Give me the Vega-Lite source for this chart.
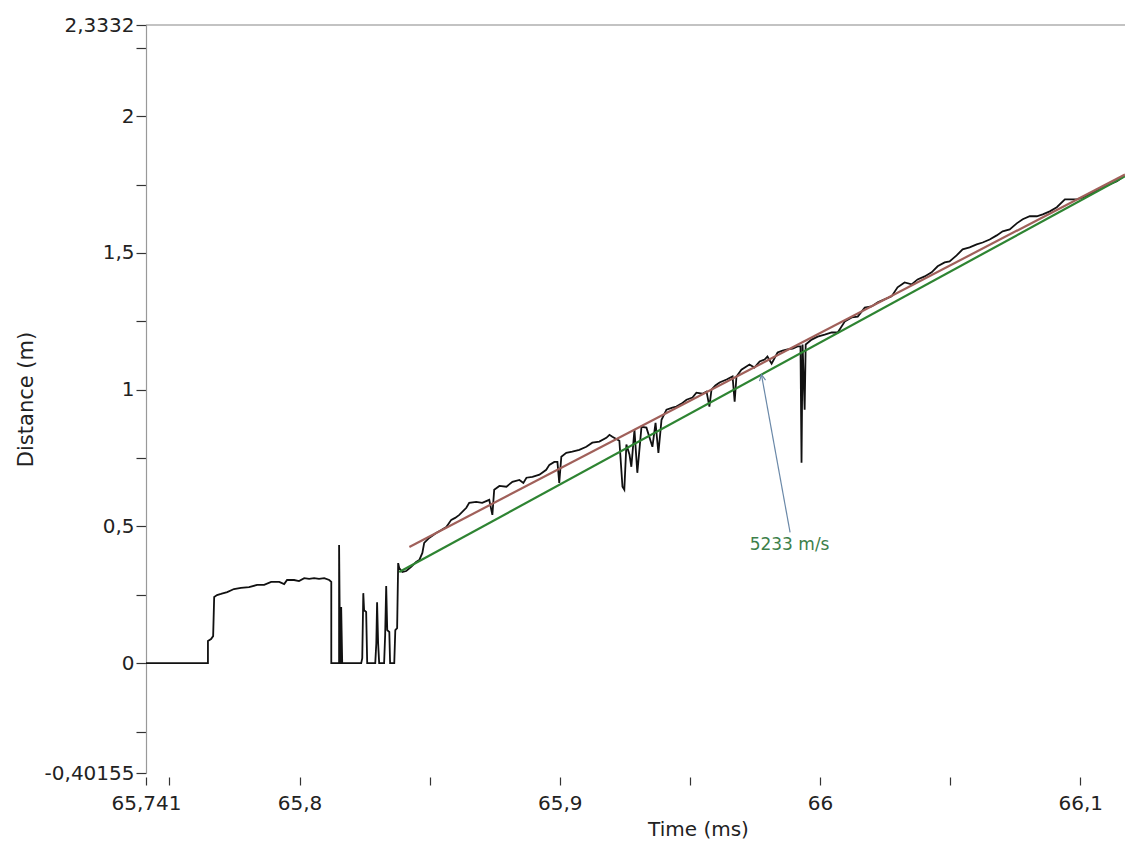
{
  "$schema": "https://vega.github.io/schema/vega-lite/v6.json",
  "autosize": {"type": "none"},
  "padding": {"left": 146, "top": 25, "right": 0, "bottom": 72},
  "width": 979,
  "height": 748,
  "background": "white",
  "config": {"view": {"stroke": null}, "axis": {"grid": false}},
  "datasets": {
    "trace": [
      {"i":1,"t":65.7410,"d":0},{"i":2,"t":65.7648,"d":0},{"i":3,"t":65.7648,"d":0.081},{"i":4,"t":65.7660,"d":0.088},
      {"i":5,"t":65.7668,"d":0.099},{"i":6,"t":65.7672,"d":0.242},{"i":7,"t":65.7683,"d":0.249},{"i":8,"t":65.7698,"d":0.253},
      {"i":9,"t":65.7722,"d":0.260},{"i":10,"t":65.7748,"d":0.271},{"i":11,"t":65.7775,"d":0.275},{"i":12,"t":65.7806,"d":0.278},
      {"i":13,"t":65.7837,"d":0.286},{"i":14,"t":65.7864,"d":0.286},{"i":15,"t":65.7891,"d":0.297},{"i":16,"t":65.7922,"d":0.297},
      {"i":17,"t":65.7941,"d":0.289},{"i":18,"t":65.7952,"d":0.304},{"i":19,"t":65.7979,"d":0.304},{"i":20,"t":65.7998,"d":0.300},
      {"i":21,"t":65.8018,"d":0.311},{"i":22,"t":65.8037,"d":0.308},{"i":23,"t":65.8056,"d":0.311},{"i":24,"t":65.8075,"d":0.308},
      {"i":25,"t":65.8095,"d":0.311},{"i":26,"t":65.8114,"d":0.304},{"i":27,"t":65.8122,"d":0.297},{"i":28,"t":65.8122,"d":0},
      {"i":29,"t":65.8152,"d":0},{"i":30,"t":65.8152,"d":0.432},{"i":31,"t":65.8156,"d":0},{"i":32,"t":65.8160,"d":0},
      {"i":33,"t":65.8160,"d":0.205},{"i":34,"t":65.8164,"d":0},{"i":35,"t":65.8237,"d":0},{"i":36,"t":65.8241,"d":0.018},
      {"i":37,"t":65.8245,"d":0.256},{"i":38,"t":65.8248,"d":0.194},{"i":39,"t":65.8256,"d":0.187},{"i":40,"t":65.8260,"d":0},
      {"i":41,"t":65.8291,"d":0},{"i":42,"t":65.8295,"d":0.073},{"i":43,"t":65.8298,"d":0.223},{"i":44,"t":65.8302,"d":0.073},
      {"i":45,"t":65.8306,"d":0},{"i":46,"t":65.8325,"d":0},{"i":47,"t":65.8329,"d":0.103},{"i":48,"t":65.8333,"d":0.282},
      {"i":49,"t":65.8337,"d":0.121},{"i":50,"t":65.8345,"d":0.114},{"i":51,"t":65.8348,"d":0},{"i":52,"t":65.8364,"d":0},
      {"i":53,"t":65.8368,"d":0.121},{"i":54,"t":65.8375,"d":0.128},{"i":55,"t":65.8379,"d":0.366},{"i":56,"t":65.8383,"d":0.348},
      {"i":57,"t":65.8395,"d":0.333},{"i":58,"t":65.8410,"d":0.337},{"i":59,"t":65.8429,"d":0.352},{"i":60,"t":65.8448,"d":0.370},
      {"i":61,"t":65.8460,"d":0.377},{"i":62,"t":65.8472,"d":0.403},{"i":63,"t":65.8479,"d":0.440},{"i":64,"t":65.8498,"d":0.458},
      {"i":65,"t":65.8525,"d":0.476},{"i":66,"t":65.8545,"d":0.487},{"i":67,"t":65.8564,"d":0.498},{"i":68,"t":65.8583,"d":0.524},
      {"i":69,"t":65.8598,"d":0.531},{"i":70,"t":65.8614,"d":0.542},{"i":71,"t":65.8641,"d":0.568},{"i":72,"t":65.8652,"d":0.586},
      {"i":73,"t":65.8679,"d":0.590},{"i":74,"t":65.8702,"d":0.586},{"i":75,"t":65.8729,"d":0.597},{"i":76,"t":65.8741,"d":0.542},
      {"i":77,"t":65.8748,"d":0.634},{"i":78,"t":65.8768,"d":0.648},{"i":79,"t":65.8795,"d":0.645},{"i":80,"t":65.8818,"d":0.663},
      {"i":81,"t":65.8845,"d":0.670},{"i":82,"t":65.8860,"d":0.659},{"i":83,"t":65.8872,"d":0.678},{"i":84,"t":65.8895,"d":0.681},
      {"i":85,"t":65.8922,"d":0.689},{"i":86,"t":65.8948,"d":0.707},{"i":87,"t":65.8960,"d":0.725},{"i":88,"t":65.8979,"d":0.736},
      {"i":89,"t":65.8991,"d":0.736},{"i":90,"t":65.8998,"d":0.659},{"i":91,"t":65.9006,"d":0.755},{"i":92,"t":65.9025,"d":0.769},
      {"i":93,"t":65.9048,"d":0.773},{"i":94,"t":65.9075,"d":0.780},{"i":95,"t":65.9102,"d":0.791},{"i":96,"t":65.9125,"d":0.806},
      {"i":97,"t":65.9152,"d":0.810},{"i":98,"t":65.9179,"d":0.824},{"i":99,"t":65.9191,"d":0.835},{"i":100,"t":65.9202,"d":0.828},
      {"i":101,"t":65.9229,"d":0.813},{"i":102,"t":65.9241,"d":0.645},{"i":103,"t":65.9248,"d":0.634},{"i":104,"t":65.9256,"d":0.799},
      {"i":105,"t":65.9268,"d":0.762},{"i":106,"t":65.9275,"d":0.718},{"i":107,"t":65.9287,"d":0.853},{"i":108,"t":65.9298,"d":0.696},
      {"i":109,"t":65.9314,"d":0.864},{"i":110,"t":65.9333,"d":0.861},{"i":111,"t":65.9356,"d":0.791},{"i":112,"t":65.9368,"d":0.879},
      {"i":113,"t":65.9379,"d":0.769},{"i":114,"t":65.9391,"d":0.890},{"i":115,"t":65.9410,"d":0.927},{"i":116,"t":65.9433,"d":0.934},
      {"i":117,"t":65.9448,"d":0.938},{"i":118,"t":65.9468,"d":0.949},{"i":119,"t":65.9487,"d":0.963},{"i":120,"t":65.9510,"d":0.971},
      {"i":121,"t":65.9525,"d":0.989},{"i":122,"t":65.9548,"d":0.985},{"i":123,"t":65.9564,"d":0.993},{"i":124,"t":65.9575,"d":0.938},
      {"i":125,"t":65.9583,"d":1.000},{"i":126,"t":65.9598,"d":1.015},{"i":127,"t":65.9614,"d":1.026},{"i":128,"t":65.9641,"d":1.037},
      {"i":129,"t":65.9664,"d":1.048},{"i":130,"t":65.9672,"d":0.956},{"i":131,"t":65.9679,"d":1.048},{"i":132,"t":65.9698,"d":1.073},
      {"i":133,"t":65.9729,"d":1.092},{"i":134,"t":65.9748,"d":1.081},{"i":135,"t":65.9768,"d":1.103},{"i":136,"t":65.9787,"d":1.110},
      {"i":137,"t":65.9798,"d":1.121},{"i":138,"t":65.9814,"d":1.095},{"i":139,"t":65.9837,"d":1.136},{"i":140,"t":65.9856,"d":1.143},
      {"i":141,"t":65.9875,"d":1.147},{"i":142,"t":65.9895,"d":1.150},{"i":143,"t":65.9914,"d":1.158},{"i":144,"t":65.9925,"d":1.158},
      {"i":145,"t":65.9929,"d":0.733},{"i":146,"t":65.9933,"d":1.165},{"i":147,"t":65.9941,"d":0.927},{"i":148,"t":65.9945,"d":1.165},
      {"i":149,"t":65.9968,"d":1.183},{"i":150,"t":65.9991,"d":1.194},{"i":151,"t":66.0018,"d":1.201},{"i":152,"t":66.0045,"d":1.209},
      {"i":153,"t":66.0068,"d":1.209},{"i":154,"t":66.0095,"d":1.249},{"i":155,"t":66.0122,"d":1.264},{"i":156,"t":66.0145,"d":1.267},
      {"i":157,"t":66.0172,"d":1.300},{"i":158,"t":66.0198,"d":1.304},{"i":159,"t":66.0222,"d":1.319},{"i":160,"t":66.0248,"d":1.330},
      {"i":161,"t":66.0275,"d":1.341},{"i":162,"t":66.0298,"d":1.374},{"i":163,"t":66.0325,"d":1.392},{"i":164,"t":66.0352,"d":1.385},
      {"i":165,"t":66.0375,"d":1.403},{"i":166,"t":66.0402,"d":1.414},{"i":167,"t":66.0429,"d":1.429},{"i":168,"t":66.0452,"d":1.451},
      {"i":169,"t":66.0479,"d":1.465},{"i":170,"t":66.0498,"d":1.469},{"i":171,"t":66.0525,"d":1.491},{"i":172,"t":66.0548,"d":1.513},
      {"i":173,"t":66.0575,"d":1.520},{"i":174,"t":66.0602,"d":1.531},{"i":175,"t":66.0625,"d":1.538},{"i":176,"t":66.0652,"d":1.549},
      {"i":177,"t":66.0679,"d":1.564},{"i":178,"t":66.0702,"d":1.579},{"i":179,"t":66.0729,"d":1.586},{"i":180,"t":66.0756,"d":1.608},
      {"i":181,"t":66.0779,"d":1.623},{"i":182,"t":66.0806,"d":1.634},{"i":183,"t":66.0833,"d":1.634},{"i":184,"t":66.0856,"d":1.641},
      {"i":185,"t":66.0883,"d":1.652},{"i":186,"t":66.0910,"d":1.667},{"i":187,"t":66.0941,"d":1.696},{"i":188,"t":66.0964,"d":1.696},
      {"i":189,"t":66.0987,"d":1.696},{"i":190,"t":66.1010,"d":1.703},{"i":191,"t":66.1037,"d":1.714},{"i":192,"t":66.1064,"d":1.729},
      {"i":193,"t":66.1087,"d":1.740},{"i":194,"t":66.1114,"d":1.751},{"i":195,"t":66.1141,"d":1.762},{"i":196,"t":66.1164,"d":1.777}
    ],
    "fits": [
      {"fit":"green","t":65.8383,"d":0.333},{"fit":"green","t":66.1172,"d":1.780},
      {"fit":"red","t":65.8422,"d":0.425},{"fit":"red","t":66.1172,"d":1.787}
    ],
    "arrow": [
      {"t":65.9885,"d":0.478},{"t":65.9775,"d":1.055}
    ],
    "tip": [{"t":65.9775,"d":1.055}],
    "label": [{"t":65.9883,"d":0.432,"txt":"5233 m/s"}],
    "frame": [{"t":65.741,"d":2.3332},{"t":66.1172,"d":2.3332}]
  },
  "encoding": {
    "x": {
      "field": "t", "type": "quantitative",
      "scale": {"domain": [65.741, 66.1172], "nice": false, "zero": false},
      "axis": {
        "title": "Time (ms)",
        "values": [65.741, 65.75, 65.8, 65.85, 65.9, 65.95, 66, 66.05, 66.1],
        "labelExpr": "round(datum.value*100) % 10 == 5 ? '' : replace('' + datum.value, '.', ',')",
        "domain": false, "offset": 4, "tickSize": 8, "tickColor": "#333333", "tickWidth": 1.2,
        "labelFont": "DejaVu Sans", "labelFontSize": 20, "labelColor": "#222222", "labelPadding": 8,
        "labelFlush": false, "labelOverlap": false,
        "titleFont": "DejaVu Sans", "titleFontSize": 20, "titleFontWeight": "normal", "titleColor": "#222222",
        "titleX": 552, "titleAlign": "center", "titlePadding": 6
      }
    },
    "y": {
      "field": "d", "type": "quantitative",
      "scale": {"domain": [-0.40155, 2.3332], "nice": false, "zero": false},
      "axis": {
        "title": "Distance (m)",
        "values": [-0.40155, -0.25, 0, 0.25, 0.5, 0.75, 1, 1.25, 1.5, 1.75, 2, 2.25, 2.3332],
        "labelExpr": "abs(round(datum.value*100)) % 50 == 25 ? '' : replace('' + datum.value, '.', ',')",
        "domainColor": "#999999", "domainWidth": 1.2, "tickSize": 10, "tickColor": "#333333", "tickWidth": 1.2,
        "labelFont": "DejaVu Sans", "labelFontSize": 20, "labelColor": "#222222", "labelPadding": 2,
        "labelFlush": false, "labelOverlap": false,
        "titleFont": "DejaVu Sans", "titleFontSize": 21, "titleFontWeight": "normal", "titleColor": "#222222",
        "titlePadding": 8
      }
    }
  },
  "layer": [
    {
      "data": {"name": "frame"},
      "mark": {"type": "line", "color": "#888888", "strokeWidth": 1.2}
    },
    {
      "data": {"name": "trace"},
      "mark": {"type": "line", "color": "#111111", "strokeWidth": 1.8, "clip": true},
      "encoding": {
        "order": {"field": "i", "type": "quantitative"}
      }
    },
    {
      "data": {"name": "fits"},
      "mark": {"type": "line", "strokeWidth": 2.2, "clip": true},
      "encoding": {
        "color": {"field": "fit", "type": "nominal", "scale": {"domain": ["green", "red"], "range": ["#2e8432", "#a0605a"]}, "legend": null}
      }
    },
    {
      "data": {"name": "arrow"},
      "mark": {"type": "line", "color": "#6a88a8", "strokeWidth": 1.2}
    },
    {
      "data": {"name": "tip"},
      "mark": {"type": "point", "shape": "M -0.5 1 L 0 0 L 0.5 1", "filled": false, "color": "#6a88a8", "strokeWidth": 1.2, "size": 150, "angle": -10, "opacity": 1}
    },
    {
      "data": {"name": "label"},
      "mark": {"type": "text", "font": "DejaVu Sans", "fontSize": 17, "color": "#3d7f4a", "align": "center", "baseline": "middle"},
      "encoding": {
        "text": {"field": "txt"}
      }
    }
  ]
}
